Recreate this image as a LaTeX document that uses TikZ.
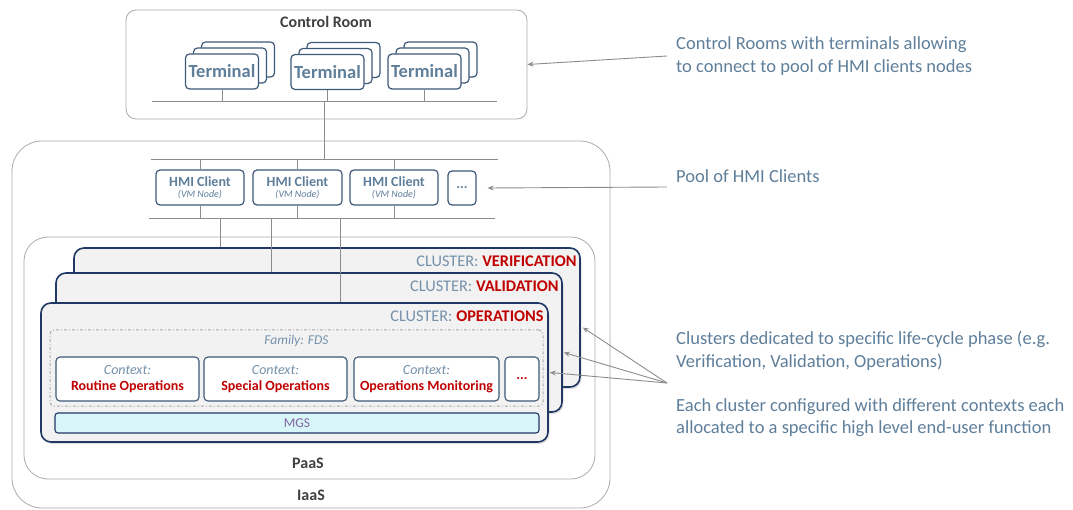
\documentclass[tikz,border=0pt]{standalone}
\usepackage{fontspec}
\setmainfont{Carlito}
\usetikzlibrary{arrows.meta,shadows}

\definecolor{navy}{HTML}{203864}
\definecolor{slate}{HTML}{3E5878}
\definecolor{steel}{HTML}{5E7E9A}
\definecolor{haze}{HTML}{7591AB}
\definecolor{crimson}{HTML}{C00000}
\definecolor{frame}{HTML}{ABABAB}
\definecolor{wire}{HTML}{8C8C8C}
\definecolor{ink}{HTML}{404040}
\definecolor{panel}{HTML}{F2F2F2}
\definecolor{mint}{HTML}{D8F6F8}
\definecolor{violet}{HTML}{8064A2}

\tikzset{
  layer/.style={draw=frame, line width=0.8pt, rounded corners=#1},
  term/.style={draw=slate, fill=white, line width=1.2pt, rounded corners=4pt,
    minimum width=73pt, minimum height=35pt, inner sep=0pt,
    text=steel, font=\fontsize{18.5}{20}\selectfont\bfseries},
  client/.style={draw=slate, fill=white, line width=1.2pt, rounded corners=4pt,
    minimum height=35pt, inner sep=0pt, align=center, text=steel},
  cluster/.style={draw=navy, fill=panel, line width=1.6pt, rounded corners=10pt,
    minimum width=506pt, minimum height=139pt,
    drop shadow={opacity=0.25, shadow xshift=1.5pt, shadow yshift=-2pt}},
  ctx/.style={draw=slate, fill=white, line width=1.1pt, rounded corners=4pt,
    minimum height=44pt, inner sep=0pt, align=center,
    font=\fontsize{14}{15.5}\selectfont},
  tag/.style={anchor=east, inner sep=0pt, font=\fontsize{16.3}{18}\selectfont, text=haze},
  wires/.style={draw=wire, line width=0.8pt},
  note/.style={anchor=west, align=left, inner sep=0pt, text=steel,
    font=\fontsize{18.5}{22.5}\selectfont},
  pointer/.style={draw=wire, line width=0.9pt, -{Stealth[length=6pt,width=5pt]}}
}

\begin{document}
\begin{tikzpicture}[x=1pt, y=-1pt]
  \useasboundingbox (0,0) rectangle (1073,510);

  \node[layer=30pt, minimum width=598pt, minimum height=367pt] (iaas) at (311,324.5) {};
  \node[layer=24pt, minimum width=571pt, minimum height=242pt] (paas) at (309.5,358) {};
  \node[layer=10pt, minimum width=401pt, minimum height=109pt] (room) at (326.5,64.5) {};

  \begin{scope}[every node/.style={text=ink, font=\fontsize{16}{17}\selectfont\bfseries}]
    \node (roomlbl) at (326,22) {Control Room};
    \node (paaslbl) at (308,463) {PaaS};
    \node (iaaslbl) at (311,495) {IaaS};
  \end{scope}

  \begin{scope}[every node/.style={term}]
    \node (t1c) at (238,59.5) {};
    \node (t1b) at (230,65.5) {};
    \node (t1)  at (222,71.5) {Terminal};
    \node (t2c) at (343.5,60) {};
    \node (t2b) at (335.5,66) {};
    \node (t2)  at (327.5,72) {Terminal};
    \node (t3c) at (440.5,59.5) {};
    \node (t3b) at (432.5,65.5) {};
    \node (t3)  at (424.5,71.5) {Terminal};
  \end{scope}

  \begin{scope}[every node/.style={client}]
    \node[minimum width=88pt] (h1) at (200,187.5)
      {\fontsize{14}{14}\selectfont\bfseries HMI Client\\[-1pt]\fontsize{10}{11}\selectfont\itshape (VM Node)};
    \node[minimum width=89pt] (h2) at (297.5,187.5)
      {\fontsize{14}{14}\selectfont\bfseries HMI Client\\[-1pt]\fontsize{10}{11}\selectfont\itshape (VM Node)};
    \node[minimum width=88pt] (h3) at (394,187.5)
      {\fontsize{14}{14}\selectfont\bfseries HMI Client\\[-1pt]\fontsize{10}{11}\selectfont\itshape (VM Node)};
    \node[minimum width=28pt, minimum height=34pt] (hd) at (462,188)
      {\fontsize{14}{14}\selectfont\bfseries ...};
  \end{scope}

  \coordinate (rbus1) at (152,101);
  \coordinate (rbus2) at (497,101);
  \coordinate (rdrop) at (324,101);
  \coordinate (hbus1) at (151,159);
  \coordinate (hbus2) at (498,159);
  \coordinate (hbus3) at (149,218);
  \coordinate (hbus4) at (495,218);
  \coordinate (d1) at (220,218);
  \coordinate (d2) at (271,218);
  \coordinate (d3) at (340,218);

  \node[cluster] (ver) at (327,317.5) {};
  \node[cluster] (val) at (309,342.5) {};
  \node[cluster, minimum width=507pt] (ops) at (294.5,372.5) {};

  \begin{scope}[every node/.style={tag}]
    \node (verlbl) at ([xshift=-4pt,yshift=-14pt]ver.north east)
      {CLUSTER: \textcolor{crimson}{\bfseries VERIFICATION}};
    \node (vallbl) at ([xshift=-4pt,yshift=-14pt]val.north east)
      {CLUSTER: \textcolor{crimson}{\bfseries VALIDATION}};
    \node (opslbl) at ([xshift=-5pt,yshift=-14pt]ops.north east)
      {CLUSTER: \textcolor{crimson}{\bfseries OPERATIONS}};
  \end{scope}

  \node[draw=frame, line width=1pt, dash dot, rounded corners=4pt,
    minimum width=493pt, minimum height=76pt] (fam) at (296.5,368) {};
  \node[text=haze, font=\fontsize{13.5}{14}\selectfont\itshape] (famlbl) at (296.5,341) {Family: FDS};

  \begin{scope}[every node/.style={ctx}]
    \node[minimum width=143pt] (c1) at (127.5,379)
      {\textcolor{haze}{\itshape Context:}\\\textcolor{crimson}{\bfseries Routine Operations}};
    \node[minimum width=143pt] (c2) at (275.5,379)
      {\textcolor{haze}{\itshape Context:}\\\textcolor{crimson}{\bfseries Special Operations}};
    \node[minimum width=145pt] (c3) at (426.5,379)
      {\textcolor{haze}{\itshape Context:}\\\textcolor{crimson}{\bfseries Operations Monitoring}};
    \node[minimum width=34pt] (cd) at (522,379)
      {\textcolor{crimson}{\bfseries ...}};
  \end{scope}

  \node[draw=navy, fill=mint, line width=1.1pt, rounded corners=3pt,
    minimum width=484pt, minimum height=20pt, inner sep=0pt,
    text=violet, font=\fontsize{13.5}{14}\selectfont] (mgs) at (297,423) {MGS};

  \begin{scope}[every path/.style={wires}]
    \path (rbus1) edge (rbus2);
    \path (t1.south) edge (t1.south |- rbus1);
    \path (t2.south) edge (t2.south |- rbus1);
    \path (t3.south) edge (t3.south |- rbus1);
    \path (rdrop) edge (rdrop |- hbus1);
    \path (hbus1) edge (hbus2);
    \path (hbus3) edge (hbus4);
    \path (h1.north) edge (h1.north |- hbus1);
    \path (h2.north) edge (h2.north |- hbus1);
    \path (h3.north) edge (h3.north |- hbus1);
    \path (h1.south) edge (h1.south |- hbus3);
    \path (h2.south) edge (h2.south |- hbus3);
    \path (h3.south) edge (h3.south |- hbus3);
    \path (d1) edge (d1 |- ver.north);
    \path (d2) edge (d2 |- val.north);
    \path (d3) edge (d3 |- ops.north);
  \end{scope}

  \node[note] (roomnote) at (676,56)
    {Control Rooms with terminals allowing\\to connect to pool of HMI clients nodes};
  \node[note] (poolnote) at (676,176) {Pool of HMI Clients};
  \node[note] (clnote) at (676,350.5)
    {Clusters dedicated to specific life-cycle phase (e.g.\\Verification, Validation, Operations)};
  \node[note] (ctxnote) at (676,417.5)
    {Each cluster configured with different contexts each\\allocated to a specific high level end-user function};

  \coordinate (poolfoot) at (667,187);
  \coordinate (clfoot) at (667,383);

  \begin{scope}[every path/.style={pointer}]
    \draw ([xshift=-9pt]roomnote.west) -- (room.east);
    \draw (poolfoot) -- ([xshift=11pt]hd.east);
    \draw (clfoot) -- ([xshift=2pt,yshift=-10pt]ver.east);
    \draw (clfoot) -- ([xshift=1pt,yshift=-10pt]val.east);
    \draw (clfoot) -- ([xshift=1pt]ops.east);
  \end{scope}

\end{tikzpicture}
\end{document}
